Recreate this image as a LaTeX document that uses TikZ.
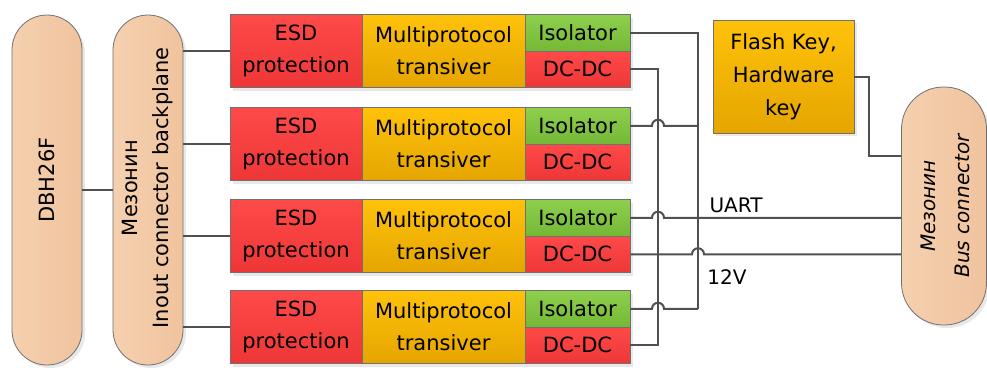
\documentclass[tikz,border=0pt]{standalone}
\usepackage{fontspec}
\setmainfont{DejaVu Sans}
\usetikzlibrary{shadows}
\definecolor{wire}{HTML}{505050}
\definecolor{boxline}{HTML}{707070}
\definecolor{esdT}{HTML}{FF4A4A}
\definecolor{esdB}{HTML}{EE3636}
\definecolor{mpT}{HTML}{FFC20A}
\definecolor{mpB}{HTML}{E5A500}
\definecolor{isoT}{HTML}{8ED04E}
\definecolor{isoB}{HTML}{74B836}
\definecolor{pillL}{HTML}{F5D0AF}
\definecolor{pillR}{HTML}{F0C39E}
\begin{document}
\begin{tikzpicture}[x=1pt,y=-1pt,
  box/.style={draw=boxline, line width=0.8pt, inner sep=0pt, align=center,
    font=\fontsize{21}{32}\selectfont,
    drop shadow={shadow xshift=3pt,shadow yshift=-3pt,fill=black!18}},
  esd/.style={box, top color=esdT, bottom color=esdB, minimum width=132pt, minimum height=73pt},
  mp/.style={box, top color=mpT, bottom color=mpB, minimum width=163pt, minimum height=73pt},
  iso/.style={box, top color=isoT, bottom color=isoB, minimum width=105pt, minimum height=36.5pt},
  dcdc/.style={box, top color=esdT, bottom color=esdB, minimum width=105pt, minimum height=36.5pt},
  pill/.style={draw=boxline, line width=0.8pt, inner sep=0pt, left color=pillL, right color=pillR,
    drop shadow={shadow xshift=3pt,shadow yshift=-3pt,fill=black!18}},
  pilltext/.style={rotate=90, align=center, inner sep=0pt, font=\fontsize{21}{31}\selectfont},
  wireline/.style={draw=wire, line width=2pt},
  lbl/.style={inner sep=0pt, font=\fontsize{20}{24}\selectfont}
]
\useasboundingbox (0,0) rectangle (987,367);

% pills
\node[pill, rounded corners=35pt, minimum width=70pt, minimum height=350pt] (dbh) at (47,190) {};
\node[pilltext] (dbht) at (47,180) {DBH26F};
\node[pill, rounded corners=35pt, minimum width=70pt, minimum height=350pt] (mez) at (148,190) {};
\node[pilltext] (mezt) at (148,188) {Мезонин\\Inout connector backplane};
\node[pill, rounded corners=42pt, minimum width=85pt, minimum height=238pt] (bus) at (944,206) {};
\node[pilltext, font=\fontsize{20}{34}\selectfont\itshape] (bust) at (945,206) {Мезонин\\Bus connector};

% rows
\foreach \i/\yc in {1/51,2/144,3/236,4/327}{
  \node[esd] (esd\i) at (296,\yc) {ESD\\protection};
  \node[mp] (mp\i) at (443.5,\yc) {Multiprotocol\\transiver};
  \node[iso] (iso\i) at (577.5,\yc-18.25) {Isolator};
  \node[dcdc] (dc\i) at (577.5,\yc+18.25) {DC-DC};
}

% flash key
\node[box, top color=mpT, bottom color=mpB, minimum width=141pt, minimum height=113pt, font=\fontsize{21}{33}\selectfont] (flash) at (783.5,76.5) {Flash Key,\\Hardware\\key};

% wiring helper coordinates
\coordinate (vP) at (658,0);
\coordinate (vU) at (698,0);
\coordinate (fk) at (869,156);

% wires
\draw[wireline] (dbh.east) -- (mez.west);
\foreach \i in {1,2,3,4}{
  \draw[wireline] (esd\i.west -| mez.east) -- (esd\i.west);
}
% isolator bus (UART)
\draw[wireline] (iso1.east) -- (iso1.east -| vU) -- (iso4.east -| vU);
\draw[wireline] (iso2.east) -- ([xshift=-6pt]iso2.east -| vP) arc[start angle=180,end angle=0,radius=6pt] -- (iso2.east -| vU);
\draw[wireline] (iso3.east) -- ([xshift=-6pt]iso3.east -| vP) arc[start angle=180,end angle=0,radius=6pt] -- (iso3.east -| bus.west);
\draw[wireline] (iso4.east) -- ([xshift=-6pt]iso4.east -| vP) arc[start angle=180,end angle=0,radius=6pt] -- (iso4.east -| vU);
% DC-DC bus (12V)
\draw[wireline] (dc1.east) -- (dc1.east -| vP) -- (dc4.east -| vP) -- (dc4.east);
\draw[wireline] (dc3.east) -- ([xshift=-6pt]dc3.east -| vU) arc[start angle=180,end angle=0,radius=6pt] -- (dc3.east -| bus.west);
% flash key
\draw[wireline] (flash.east) -| (fk) -- (fk -| bus.west);

% labels
\node[lbl] (uart) at (736,205) {UART};
\node[lbl] (v12) at (727,277) {12V};
\end{tikzpicture}
\end{document}
